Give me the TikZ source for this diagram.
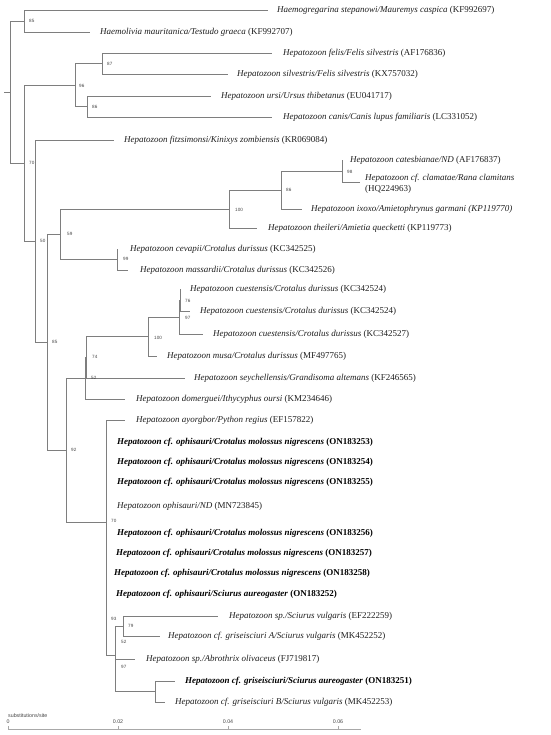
\documentclass[tikz,border=0pt]{standalone}
\usepackage{fontspec}
\setmainfont{Liberation Serif}
\setsansfont{Liberation Sans}
\definecolor{brc}{HTML}{7E7E7E}
\definecolor{txt}{HTML}{1E1E1E}
\definecolor{suc}{HTML}{444444}
\definecolor{scc}{HTML}{A8A8A8}
\begin{document}
\begin{tikzpicture}[x=1pt,y=-1pt,
  br/.style={draw=brc,line width=0.7pt},
  lf/.style={anchor=west,inner sep=0pt,font=\fontsize{9}{10.5}\selectfont,text=txt},
  bf/.style={lf,text=black,font=\fontsize{9}{10.5}\selectfont\bfseries},
  sup/.style={anchor=west,inner sep=0pt,font=\fontsize{4.6}{5}\sffamily,text=suc},
  scl/.style={draw=scc,line width=0.6pt},
  sct/.style={inner sep=0pt,font=\fontsize{5.3}{6}\sffamily,text=suc}]
\useasboundingbox (0,0) rectangle (550,735);
% internal nodes
\coordinate (R0) at (4,92);
\coordinate (R) at (10,92);
\coordinate (A) at (24,21);
\coordinate (B) at (24,163);
\coordinate (N96) at (75,85);
\coordinate (N87) at (102,63.5);
\coordinate (N86a) at (87,106.5);
\coordinate (C) at (35,241);
\coordinate (D) at (47,342);
\coordinate (N59) at (60,234);
\coordinate (N100a) at (229,209);
\coordinate (N86b) at (281,190);
\coordinate (N98) at (342,171);
\coordinate (N99) at (117,259.5);
\coordinate (N92) at (66,450);
\coordinate (N52) at (85,378);
\coordinate (N74) at (86,357);
\coordinate (N100b) at (148,336.5);
\coordinate (N97c) at (179,317);
\coordinate (N76) at (180,300);
\coordinate (Nop) at (106,522);
\coordinate (N97) at (115,655);
\coordinate (N79) at (123,626);
\coordinate (Ngr) at (155,691.5);
% leaf ends
\coordinate (e1) at (268,10);
\coordinate (e2) at (90,32);
\coordinate (e3) at (272,53);
\coordinate (e4) at (228,74);
\coordinate (e5) at (211,96);
\coordinate (e6) at (272,117);
\coordinate (e7) at (114,140);
\coordinate (e8) at (343,160);
\coordinate (e9) at (360,182);
\coordinate (e10) at (302,209);
\coordinate (e11) at (257,228);
\coordinate (e12) at (117,249);
\coordinate (e13) at (128,270);
\coordinate (e14) at (180,289);
\coordinate (e15) at (190,311);
\coordinate (e16) at (203,334);
\coordinate (e17) at (157,356);
\coordinate (e18) at (185,378);
\coordinate (e19) at (125,399);
\coordinate (e20) at (125,420);
\coordinate (e29) at (218,616);
\coordinate (e30) at (160,636);
\coordinate (e31) at (135,659);
\coordinate (e32) at (175,681);
\coordinate (e33) at (165,702);
% branches
\draw[br] (R0) -- (R);
\draw[br] (R) |- (A); \draw[br] (R) |- (B);
\draw[br] (A) |- (e1); \draw[br] (A) |- (e2);
\draw[br] (B) |- (N96); \draw[br] (B) |- (C);
\draw[br] (N96) |- (N87); \draw[br] (N96) |- (N86a);
\draw[br] (N87) |- (e3); \draw[br] (N87) |- (e4);
\draw[br] (N86a) |- (e5); \draw[br] (N86a) |- (e6);
\draw[br] (C) |- (e7); \draw[br] (C) |- (D);
\draw[br] (D) |- (N59); \draw[br] (D) |- (N92);
\draw[br] (N59) |- (N100a); \draw[br] (N59) |- (N99);
\draw[br] (N100a) |- (N86b); \draw[br] (N100a) |- (e11);
\draw[br] (N86b) |- (N98); \draw[br] (N86b) |- (e10);
\draw[br] (N98) |- (e8); \draw[br] (N98) |- (e9);
\draw[br] (N99) |- (e12); \draw[br] (N99) |- (e13);
\draw[br] (N92) |- (N52); \draw[br] (N92) |- (Nop);
\draw[br] (N52) |- (N74); \draw[br] (N52) |- (e19);
\draw[br] (N74) |- (N100b); \draw[br] (N74) |- (e18);
\draw[br] (N100b) |- (N97c); \draw[br] (N100b) |- (e17);
\draw[br] (N97c) |- (N76); \draw[br] (N97c) |- (e16);
\draw[br] (N76) |- (e14); \draw[br] (N76) |- (e15);
\draw[br] (Nop) |- (e20); \draw[br] (Nop) |- (N97);
\draw[br] (N97) |- (N79); \draw[br] (N97) |- (e31); \draw[br] (N97) |- (Ngr);
\draw[br] (N79) |- (e29); \draw[br] (N79) |- (e30);
\draw[br] (Ngr) |- (e32); \draw[br] (Ngr) |- (e33);
% support values
\node[sup] (s1) at (29,21) {85};
\node[sup] (s2) at (107,64) {87};
\node[sup] (s3) at (79,86) {96};
\node[sup] (s4) at (92,107) {86};
\node[sup] (s5) at (29,163) {70};
\node[sup] (s6) at (40,241) {50};
\node[sup] (s7) at (347,172) {98};
\node[sup] (s8) at (286,190) {86};
\node[sup] (s9) at (235,210) {100};
\node[sup] (s10) at (67,234) {59};
\node[sup] (s11) at (123,259) {99};
\node[sup] (s12) at (52,342) {85};
\node[sup] (s13) at (185,301) {76};
\node[sup] (s14) at (185,318) {97};
\node[sup] (s15) at (154,338) {100};
\node[sup] (s16) at (92,357) {74};
\node[sup] (s17) at (91,378) {52};
\node[sup] (s18) at (71,450) {92};
\node[sup] (s19) at (111,521) {70};
\node[sup] (s20) at (111,619) {93};
\node[sup] (s21) at (128,626) {79};
\node[sup] (s22) at (121,642) {52};
\node[sup] (s23) at (121,667) {97};
% leaf labels
\node[lf] (t1) at (277,10) {\textit{Haemogregarina stepanowi/Mauremys caspica} (KF992697)};
\node[lf] (t2) at (100,32) {\textit{Haemolivia mauritanica/Testudo graeca} (KF992707)};
\node[lf] (t3) at (283,53) {\textit{Hepatozoon felis/Felis silvestris} (AF176836)};
\node[lf] (t4) at (237,74) {\textit{Hepatozoon silvestris/Felis silvestris} (KX757032)};
\node[lf] (t5) at (221,96) {\textit{Hepatozoon ursi/Ursus thibetanus} (EU041717)};
\node[lf] (t6) at (283,117) {\textit{Hepatozoon canis/Canis lupus familiaris} (LC331052)};
\node[lf] (t7) at (124,140) {\textit{Hepatozoon fitzsimonsi/Kinixys zombiensis} (KR069084)};
\node[lf] (t8) at (350,160) {\textit{Hepatozoon catesbianae/ND} (AF176837)};
\node[lf,align=left] (t9) at (365,184) {\textit{Hepatozoon cf. clamatae/Rana clamitans}\\(HQ224963)};
\node[lf] (t10) at (311,209) {\textit{Hepatozoon ixoxo/Amietophrynus garmani (KP119770)}};
\node[lf] (t11) at (268,228) {\textit{Hepatozoon theileri/Amietia quecketti} (KP119773)};
\node[lf] (t12) at (130,249) {\textit{Hepatozoon cevapii/Crotalus durissus} (KC342525)};
\node[lf] (t13) at (140,270) {\textit{Hepatozoon massardii/Crotalus durissus} (KC342526)};
\node[lf] (t14) at (190,289) {\textit{Hepatozoon cuestensis/Crotalus durissus} (KC342524)};
\node[lf] (t15) at (200,311) {\textit{Hepatozoon cuestensis/Crotalus durissus} (KC342524)};
\node[lf] (t16) at (213,334) {\textit{Hepatozoon cuestensis/Crotalus durissus} (KC342527)};
\node[lf] (t17) at (167,356) {\textit{Hepatozoon musa/Crotalus durissus} (MF497765)};
\node[lf] (t18) at (194,378) {\textit{Hepatozoon seychellensis/Grandisoma altemans} (KF246565)};
\node[lf] (t19) at (136,399) {\textit{Hepatozoon domerguei/Ithycyphus oursi} (KM234646)};
\node[lf] (t20) at (136,420) {\textit{Hepatozoon ayorgbor/Python regius} (EF157822)};
\node[bf] (t21) at (117,442) {\textit{Hepatozoon cf. ophisauri/Crotalus molossus nigrescens} (ON183253)};
\node[bf] (t22) at (117,462) {\textit{Hepatozoon cf. ophisauri/Crotalus molossus nigrescens} (ON183254)};
\node[bf] (t23) at (117,482) {\textit{Hepatozoon cf. ophisauri/Crotalus molossus nigrescens} (ON183255)};
\node[lf] (t24) at (117,506) {\textit{Hepatozoon ophisauri/ND} (MN723845)};
\node[bf] (t25) at (117,533) {\textit{Hepatozoon cf. ophisauri/Crotalus molossus nigrescens} (ON183256)};
\node[bf] (t26) at (116,553) {\textit{Hepatozoon cf. ophisauri/Crotalus molossus nigrescens} (ON183257)};
\node[bf] (t27) at (114,573) {\textit{Hepatozoon cf. ophisauri/Crotalus molossus nigrescens} (ON183258)};
\node[bf] (t28) at (116,594) {\textit{Hepatozoon cf. ophisauri/Sciurus aureogaster} (ON183252)};
\node[lf] (t29) at (229,616) {\textit{Hepatozoon sp./Sciurus vulgaris} (EF222259)};
\node[lf] (t30) at (168,636) {\textit{Hepatozoon cf. griseisciuri A/Sciurus vulgaris} (MK452252)};
\node[lf] (t31) at (146,659) {\textit{Hepatozoon sp./Abrothrix olivaceus} (FJ719817)};
\node[bf] (t32) at (185,681) {\textit{Hepatozoon cf. griseisciuri/Sciurus aureogaster} (ON183251)};
\node[lf] (t33) at (175,702) {\textit{Hepatozoon cf. griseisciuri B/Sciurus vulgaris} (MK452253)};
% scale bar
\coordinate (b0) at (8,729);
\coordinate (b1) at (361,729);
\draw[scl] (b0) -- (b1);
\node[sct,anchor=west] (sub) at (8,716) {substitutions/site};
\foreach \xx/\ll/\nn in {8/0/k0,118/0.02/k1,228/0.04/k2,338/0.06/k3}{
  \coordinate (\nn) at (\xx,729);
  \draw[scl] (\nn) -- ++(0,-3);
  \node[sct] (l\nn) at (\xx,722) {\ll};
}
\end{tikzpicture}
\end{document}
